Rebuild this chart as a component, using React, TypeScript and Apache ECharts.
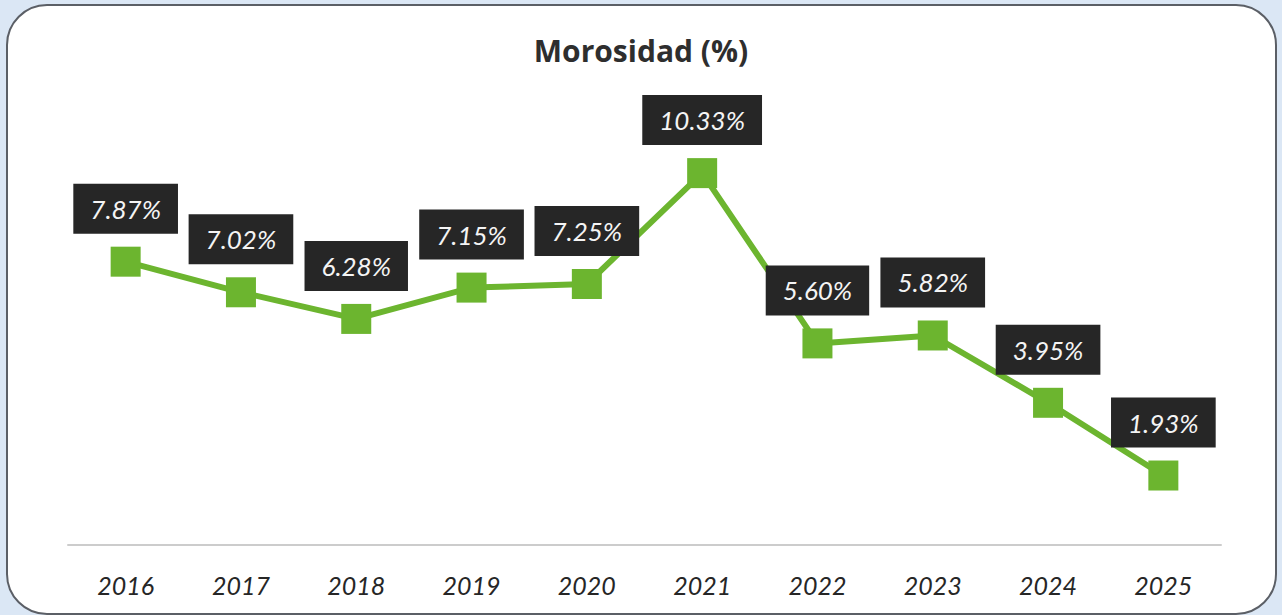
import React, { useEffect, useRef } from "react";
import * as echarts from "echarts";

const years = ["2016", "2017", "2018", "2019", "2020", "2021", "2022", "2023", "2024", "2025"];
const morosidad = [7.87, 7.02, 6.28, 7.15, 7.25, 10.33, 5.6, 5.82, 3.95, 1.93];
const chartTitle = "Morosidad (%)";

export default function App() {
  const ref = useRef<HTMLDivElement>(null);
  useEffect(() => {
    if (!ref.current) return;
    const chart = echarts.init(ref.current, null, { renderer: "svg" });
    chart.setOption({
      animation: false,
      backgroundColor: "#dbe7f5",
      graphic: [
        {
          type: "rect",
          z: -10,
          shape: { x: 7, y: 5, width: 1269, height: 609, r: 40 },
          style: { fill: "#ffffff", stroke: "#5b5f66", lineWidth: 2 },
        },
      ],
      title: {
        text: chartTitle,
        left: "center",
        top: 30,
        textStyle: { fontFamily: "Open Sans", fontSize: 30, fontWeight: "bold", color: "#2e2e2e" },
      },
      grid: { left: 68, right: 61, top: 113, bottom: 70 },
      xAxis: {
        type: "category",
        data: years,
        boundaryGap: true,
        axisLine: { show: true, lineStyle: { color: "#cccccc", width: 2 } },
        axisTick: { show: false },
        axisLabel: {
          margin: 27,
          fontFamily: "Lato",
          fontStyle: "italic",
          fontSize: 25,
          color: "#262626",
        },
      },
      yAxis: {
        type: "value",
        min: 0,
        max: 12,
        show: false,
        splitLine: { show: false },
      },
      series: [
        {
          type: "line",
          data: morosidad,
          symbol: "rect",
          symbolSize: 30,
          lineStyle: { color: "#6cb52f", width: 6 },
          itemStyle: { color: "#6cb52f" },
          label: {
            show: true,
            position: "top",
            distance: 13,
            formatter: (p: any) => p.value.toFixed(2) + "%",
            backgroundColor: "#262626",
            color: "#f4f4f4",
            fontFamily: "Lato",
            fontStyle: "italic",
            fontSize: 26,
            lineHeight: 30,
            padding: [10, 17, 10, 17],
          },
        },
      ],
    });
    return () => chart.dispose();
  }, []);
  return (
    <div
      ref={ref}
      style={{ position: "fixed", left: 0, top: 0, width: 1282, height: 615 }}
    />
  );
}
